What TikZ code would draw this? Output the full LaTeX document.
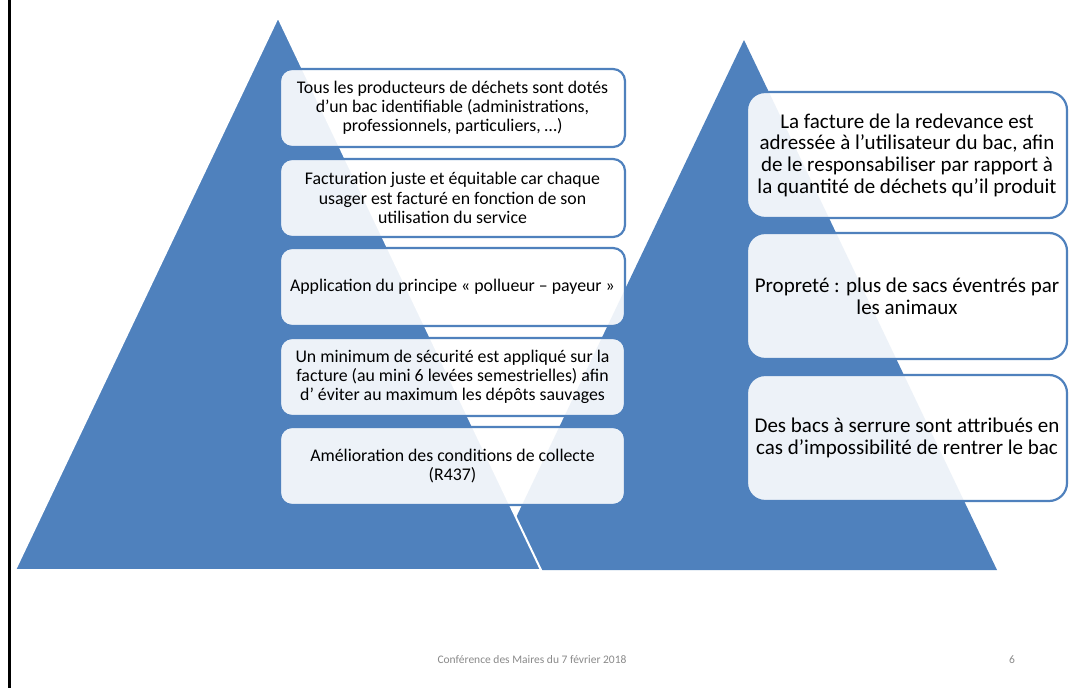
\documentclass[tikz,border=0pt]{standalone}
\usepackage{fontspec}
\setmainfont{Carlito}
\definecolor{sablue}{HTML}{4F81BD}
\definecolor{footgray}{HTML}{8A8A8A}
\begin{document}
\begin{tikzpicture}[x=1pt,y=-1pt,
  lbox/.style={draw=sablue, line width=2.2pt, rounded corners=12pt, fill=white, fill opacity=0.9, text opacity=1,
    minimum width=345pt, minimum height=78pt, align=center, inner sep=0pt,
    font=\fontsize{17.8}{19.2}\selectfont, text=black},
  rbox/.style={draw=sablue, line width=2.2pt, rounded corners=18pt, fill=white, fill opacity=0.9, text opacity=1,
    minimum width=320pt, minimum height=126pt, align=center, inner sep=0pt,
    font=\fontsize{21}{21.7}\selectfont, text=black},
  foot/.style={font=\fontsize{11.5}{13}\selectfont, text=footgray}]
\useasboundingbox (0,0) rectangle (1069,688);
\fill[white] (0,0) rectangle (1069,688);
% frame line
\draw[black, line width=3pt] (9,0) -- (9,688);
% right triangle (behind)
\fill[sablue] (744,40) -- (997,570) -- (491,570) -- cycle;
% left triangle (front, white outline)
\filldraw[fill=sablue, draw=white, line width=2pt] (278,17) -- (541,570) -- (15,570) -- cycle;
% left boxes
\node[lbox] (l1) at (452.5,108) {Tous les producteurs de déchets sont dotés\\d’un bac identifiable (administrations,\\professionnels, particuliers, …)};
\node[lbox] (l2) at (452.5,198) {Facturation juste et équitable car chaque\\usager est facturé en fonction de son\\utilisation du service};
\node[lbox] (l3) at (452.5,287) {Application du principe « pollueur – payeur »};
\node[lbox] (l4) at (452.5,377) {Un minimum de sécurité est appliqué sur la\\facture (au mini 6 levées semestrielles) afin\\d’ éviter au maximum les dépôts sauvages};
\node[lbox] (l5) at (452.5,466) {Amélioration des conditions de collecte\\(R437)};
% right boxes
\node[rbox] (r1) at (907,155) {La facture de la redevance est\\adressée à l’utilisateur du bac, afin\\de le responsabiliser par rapport à\\la quantité de déchets qu’il produit};
\node[rbox] (r2) at (907,296) {Propreté : plus de sacs éventrés par\\les animaux};
\node[rbox] (r3) at (907,438) {Des bacs à serrure sont attribués en\\cas d’impossibilité de rentrer le bac};
% footer
\node[foot] (f1) at (532,660) {Conférence des Maires du 7 février 2018};
\node[foot] (f2) at (1012,660) {6};
\end{tikzpicture}
\end{document}
